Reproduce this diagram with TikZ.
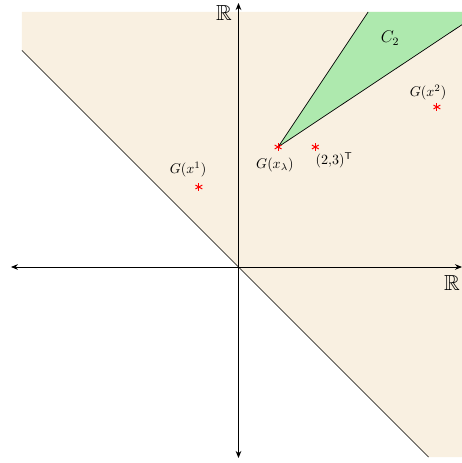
\documentclass[tikz,border=0pt]{standalone}
\usepackage{amssymb}
\usetikzlibrary{arrows.meta}
\definecolor{sand}{HTML}{F9F0E1}
\definecolor{mint}{HTML}{AEE9AE}

\begin{document}
\begin{tikzpicture}[x=1cm,y=1cm,
      axis/.style={line width=0.6pt,{Stealth[length=5pt,width=4pt]}-{Stealth[length=5pt,width=4pt]}},
      edge/.style={line width=0.5pt,line join=round},
      ast/.style={red,line width=0.7pt},
      lbl/.style={inner sep=0pt}]
    \useasboundingbox (-5.9625,-4.9) rectangle (5.5875,6.675);

    % image set, bounded below by the line y = -x
    \coordinate (dtop) at (-5.4125,5.4125);
    \coordinate (dbot) at (4.75,-4.75);
    \fill[sand] (dtop) -- (-5.4125,6.375) -- (5.5875,6.375) -- (5.5875,-4.75) -- (dbot) -- cycle;
    \draw[edge] (dtop) -- (dbot);

    % cone C_2 with apex at G(x_lambda)
    \coordinate (xlam) at (0.99,3);
    \coordinate (ctop) at (3.24,6.375);
    \coordinate (cright) at (5.5875,6.058);
    \fill[mint] (xlam) -- (ctop) -- (5.5875,6.375) -- (cright) -- cycle;
    \draw[edge] (ctop) -- (xlam) -- (cright);
    \node (ctwo) at (3.79,5.725) {\large$C_2$};

    % axes
    \coordinate (xl) at (-5.69,0);
    \coordinate (xr) at (5.5875,0);
    \coordinate (yb) at (0,-4.775);
    \coordinate (yt) at (0,6.6);
    \draw[axis] (xl) -- (xr);
    \draw[axis] (yb) -- (yt);
    \node[lbl] (rx) at (5.34,-0.4) {\fontsize{15.5}{18}\selectfont$\mathbb{R}$};
    \node[lbl] (ry) at (-0.36,6.36) {\fontsize{15.5}{18}\selectfont$\mathbb{R}$};

    % points
    \coordinate (xone) at (-0.99,2);
    \coordinate (xtwo) at (4.96,4);
    \coordinate (ptt) at (1.92,3);
    \foreach \p in {xone,xtwo,xlam,ptt}
      \foreach \a in {90,30,150}
        \draw[ast] (\p) ++(\a:2.8pt) -- ++(\a+180:5.6pt);

    % point labels
    \node[lbl,xshift=-0.27cm,yshift=0.425cm] (lone) at (xone) {$G(x^1)$};
    \node[lbl,xshift=-0.22cm,yshift=0.35cm] (ltwo) at (xtwo) {$G(x^2)$};
    \node[lbl,xshift=-0.08cm,yshift=-0.45cm] (llam) at (xlam) {$G(x_\lambda)$};
    \node[lbl,xshift=0.47cm,yshift=-0.325cm] (lptt) at (ptt) {$(2{,}3)^{\mathsf{T}}$};
  \end{tikzpicture}
\end{document}
